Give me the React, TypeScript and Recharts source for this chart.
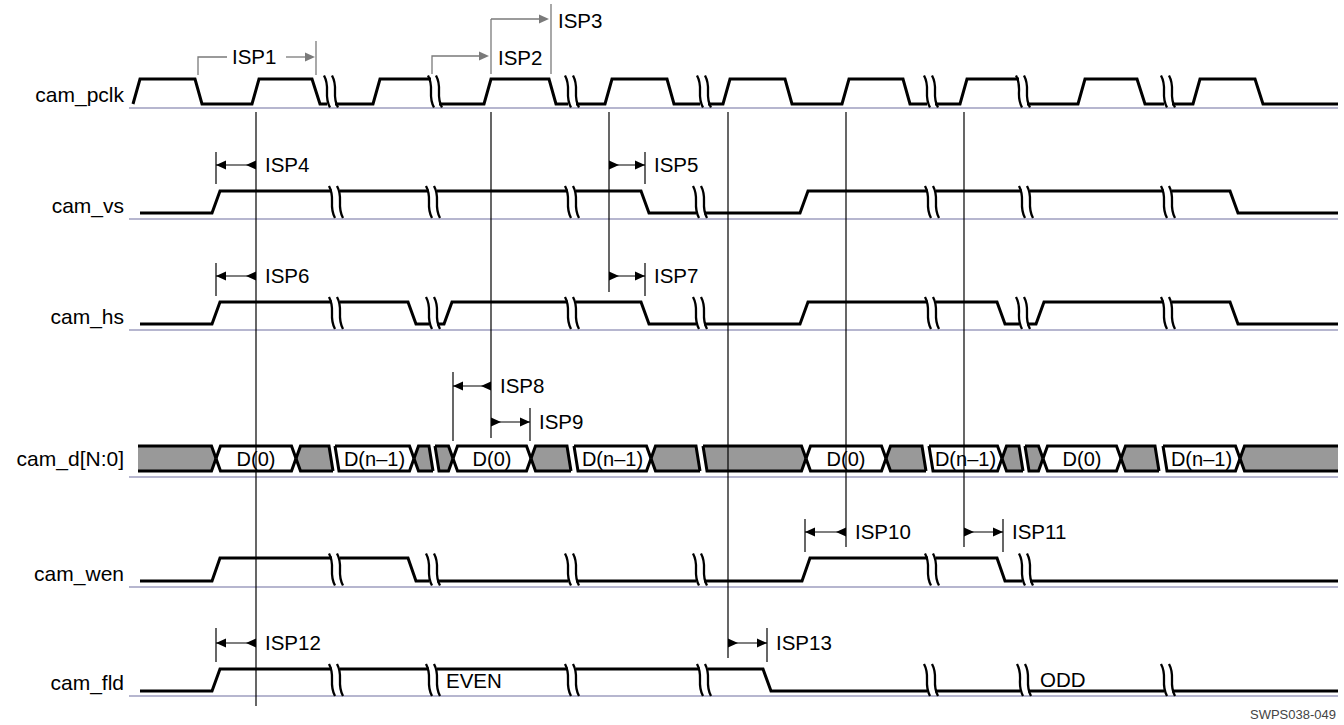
import React from 'react';
import { ComposedChart, Line, Area, Scatter, XAxis, YAxis } from 'recharts';

const CHART_W = 1344;
const CHART_H = 725;
const FONT = "'Liberation Sans', Arial, Helvetica, sans-serif";

// ---------- rows (values on the vertical scale) ----------
const rowNames = ['cam_pclk', 'cam_vs', 'cam_hs', 'cam_d[N:0]', 'cam_wen', 'cam_fld'];
const rowBase = [108, 219, 330, 477, 587, 696];
const rowHigh = [79, 191, 302, 446, 558, 669];
const rowLow = [104, 213, 324, 471, 581, 691];
const rowLabelY = [95, 206, 317, 459, 574, 683];
const baselineFrom = 129;
const baselineTo = 1338;

// ---------- waveforms: [time, level] (1 = high, 0 = low, null = break) ----------
type Pt = [number, number | null];
const pclkWave: Pt[] = [
  [133, 0], [140, 1], [195, 1], [202, 0], [252, 0], [259, 1], [312, 1], [320, 0], [327, 0], [331, null],
  [335, 0], [373, 0], [380, 1], [431, 1], [435, null],
  [439, 0], [484, 0], [491, 1], [549, 1], [556, 0], [568, 0], [572, null],
  [576, 0], [605, 0], [612, 1], [667, 1], [674, 0], [700, 0], [704, null],
  [708, 0], [723, 0], [730, 1], [785, 1], [792, 0], [842, 0], [849, 1], [903, 1], [910, 0], [927, 0], [931, null],
  [935, 0], [960, 0], [967, 1], [1019, 1], [1023, null],
  [1027, 0], [1078, 0], [1085, 1], [1137, 1], [1145, 0], [1164, 0], [1168, null],
  [1172, 0], [1193, 0], [1200, 1], [1255, 1], [1263, 0], [1338, 0],
];
const vsWave: Pt[] = [
  [140, 0], [212, 0], [220, 1], [332, 1], [336, null], [340, 1], [429, 1], [433, null], [437, 1], [568, 1], [572, null],
  [576, 1], [641, 1], [649, 0], [696, 0], [700, null], [704, 0], [800, 0], [808, 1], [928, 1], [932, null],
  [936, 1], [1022, 1], [1026, null], [1030, 1], [1164, 1], [1168, null], [1172, 1], [1230, 1], [1238, 0], [1338, 0],
];
const hsWave: Pt[] = [
  [140, 0], [212, 0], [220, 1], [332, 1], [336, null], [340, 1], [408, 1], [416, 0], [429, 0], [433, null],
  [437, 0], [444, 0], [452, 1], [568, 1], [572, null], [576, 1], [641, 1], [649, 0], [696, 0], [700, null],
  [704, 0], [800, 0], [808, 1], [928, 1], [932, null], [936, 1], [997, 1], [1005, 0], [1019, 0], [1023, null],
  [1027, 0], [1036, 0], [1044, 1], [1164, 1], [1168, null], [1172, 1], [1230, 1], [1238, 0], [1338, 0],
];
const wenWave: Pt[] = [
  [140, 0], [212, 0], [220, 1], [332, 1], [336, null], [340, 1], [408, 1], [416, 0], [429, 0], [433, null],
  [437, 0], [568, 0], [572, null], [576, 0], [696, 0], [700, null], [704, 0], [802, 0], [810, 1], [928, 1], [932, null],
  [936, 1], [997, 1], [1005, 0], [1022, 0], [1026, null], [1030, 0], [1338, 0],
];
const fldWave: Pt[] = [
  [140, 0], [212, 0], [220, 1], [332, 1], [336, null], [340, 1], [429, 1], [433, null], [437, 1], [568, 1], [572, null],
  [576, 1], [700, 1], [704, null], [708, 1], [763, 1], [771, 0], [927, 0], [931, null], [935, 0], [1020, 0], [1024, null],
  [1028, 0], [1164, 0], [1168, null], [1172, 0], [1338, 0],
];
const waveList = [pclkWave, vsWave, hsWave, wenWave, fldWave];
const waveRow = [0, 1, 2, 4, 5];

// ---------- data bus segments ----------
const busKind = ['g', 'w', 'g', 'w', 'g', 'g', 'w', 'g', 'w', 'g', 'g', 'w', 'g', 'w', 'g', 'g', 'w', 'g', 'w', 'g'];
const busStart = [138, 216, 296, 335, 414, 435, 453, 531, 574, 651, 703, 806, 886, 929, 1002, 1025, 1043, 1121, 1163, 1240];
const busEnd = [216, 296, 329, 414, 429, 453, 531, 567, 651, 696, 806, 886, 922, 1002, 1019, 1043, 1121, 1155, 1240, 1338];
const busLeft = ['f', 'x', 'x', 'b', 'x', 'b', 'x', 'x', 'b', 'x', 'b', 'x', 'x', 'b', 'x', 'b', 'x', 'x', 'b', 'x'];
const busRight = ['x', 'x', 'b', 'x', 'b', 'x', 'x', 'b', 'x', 'b', 'x', 'x', 'b', 'x', 'b', 'x', 'x', 'b', 'x', 'f'];
const busText = ['', 'D(0)', '', 'D(n\u20131)', '', '', 'D(0)', '', 'D(n\u20131)', '', '', 'D(0)', '', 'D(n\u20131)', '', '', 'D(0)', '', 'D(n\u20131)', ''];

// ---------- timing reference lines ----------
const refX = [256, 491, 609, 728, 846, 964];
const refTop = [112, 112, 112, 112, 112, 112];
const refBottom = [706, 438, 292, 658, 547, 547];

// ---------- timing arrows ----------
const arrowName = ['ISP4', 'ISP5', 'ISP6', 'ISP7', 'ISP8', 'ISP9', 'ISP10', 'ISP11', 'ISP12', 'ISP13'];
const arrowRef = [256, 609, 256, 609, 491, 491, 846, 964, 256, 728];
const arrowTick = [216, 645, 216, 645, 453, 530, 805, 1003, 216, 767];
const arrowY = [165, 165, 276, 276, 386, 422, 532, 532, 643, 643];
const tickTop = [152, 152, 263, 263, 372, 408, 519, 519, 628, 628];
const tickBottom = [184, 184, 296, 296, 441, 441, 552, 552, 662, 662];

// ---------- clock period annotations (gray) ----------
const clockPaths: [number, number][][] = [
  [[198, 75], [198, 57], [227, 57]],
  [[286, 57], [312, 57]],
  [[316, 41], [316, 75]],
  [[432, 74], [432, 56], [486, 56]],
  [[491, 19], [491, 74]],
  [[491, 19], [546, 19]],
  [[551, 4], [551, 74]],
];
const clockHeadX = [315, 489, 549];
const clockHeadY = [57, 56, 19];
const clockLabel = ['ISP1', 'ISP2', 'ISP3'];
const clockLabelX = [232, 498, 558];
const clockLabelY = [57, 58, 21];

// ---------- field labels ----------
const fieldLabel = ['EVEN', 'ODD'];
const fieldLabelX = [446, 1040];
const fieldLabelY = [681, 680];

const footnote = 'SWPS038-049';
const footnoteX = 1336;
const footnoteY = 714;

// ---------- derived series ----------
const waveData = (w: Pt[], r: number) =>
  w.map(([x, lv]) => ({ x, y: lv === null ? null : lv === 1 ? rowHigh[r] : rowLow[r] }));
const glyphData = waveList.flatMap((w, i) =>
  w.filter((p) => p[1] === null).map((p) => ({ x: p[0], y: (rowHigh[waveRow[i]] + rowLow[waveRow[i]]) / 2 }))
);

const X_HALF = 4.5;
const SLANT = 4;
const busPoints = (i: number) => {
  const T = rowHigh[3];
  const B = rowLow[3];
  const C = (T + B) / 2;
  const s = busStart[i];
  const e = busEnd[i];
  const pts: { x: number; v: [number, number] }[] = [];
  if (busLeft[i] === 'x') pts.push({ x: s, v: [C, C] }, { x: s + X_HALF, v: [B, T] });
  else if (busLeft[i] === 'b') pts.push({ x: s, v: [T, T] }, { x: s + SLANT, v: [B, T] });
  else pts.push({ x: s, v: [B, T] });
  if (busRight[i] === 'x') pts.push({ x: e - X_HALF, v: [B, T] }, { x: e, v: [C, C] });
  else if (busRight[i] === 'b') pts.push({ x: e, v: [B, T] }, { x: e + SLANT, v: [B, B] });
  else pts.push({ x: e, v: [B, T] });
  return pts;
};

const rowLabelData = rowNames.map((t, i) => ({ x: 124, y: rowLabelY[i], text: t }));
const busLabelData = busText
  .map((t, i) => ({ x: (busStart[i] + busEnd[i]) / 2, y: (rowHigh[3] + rowLow[3]) / 2, text: t }))
  .filter((d) => d.text);
const arrowLabelData = arrowName.map((t, i) => ({
  x: Math.max(arrowRef[i], arrowTick[i]) + 9,
  y: arrowY[i],
  text: t,
}));
const clockLabelData = clockLabel.map((t, i) => ({ x: clockLabelX[i], y: clockLabelY[i], text: t }));
const fieldLabelData = fieldLabel.map((t, i) => ({ x: fieldLabelX[i], y: fieldLabelY[i], text: t }));
const footData = [{ x: footnoteX, y: footnoteY, text: footnote }];

const HEAD = 10;
const arrowHeads = arrowName.flatMap((_, i) => {
  const dir = arrowTick[i] < arrowRef[i] ? -1 : 1;
  if (dir < 0)
    return [
      { x: arrowTick[i], y: arrowY[i], dir },
      { x: arrowRef[i] - HEAD, y: arrowY[i], dir },
    ];
  return [
    { x: arrowRef[i] + HEAD, y: arrowY[i], dir },
    { x: arrowTick[i], y: arrowY[i], dir },
  ];
});
const clockHeads = clockHeadX.map((x, i) => ({ x, y: clockHeadY[i], dir: 1 }));

// ---------- shapes ----------
const makeText =
  (anchor: string, size: number, color: string) =>
  (props: any) => {
    const p = props.payload || props;
    return (
      <text
        x={props.cx}
        y={props.cy}
        dy="0.35em"
        textAnchor={anchor}
        fontSize={size}
        fontFamily={FONT}
        fill={color}
      >
        {p.text}
      </text>
    );
  };

const makeHead = (color: string) => (props: any) => {
  const p = props.payload || props;
  const { cx, cy } = props;
  const d = p.dir;
  return (
    <polygon
      points={`${cx},${cy} ${cx - d * HEAD},${cy - 4.5} ${cx - d * HEAD},${cy + 4.5}`}
      fill={color}
      stroke="none"
    />
  );
};

const BreakGlyph = (props: any) => {
  const { cx, cy } = props;
  const hh = 16;
  const curve = (ox: number) =>
    `M${ox - 3},${cy - hh} C${ox + 4},${cy - hh * 0.2} ${ox - 4},${cy + hh * 0.2} ${ox + 3},${cy + hh}`;
  return (
    <g>
      <path d={curve(cx - 4)} stroke="#000" strokeWidth={2.3} fill="none" />
      <path d={curve(cx + 4)} stroke="#000" strokeWidth={2.3} fill="none" />
    </g>
  );
};

const lineProps = {
  type: 'linear' as const,
  dataKey: 'y',
  dot: false,
  activeDot: false,
  isAnimationActive: false,
  connectNulls: false,
};

export default function App() {
  return (
    <div style={{ position: 'absolute', left: 0, top: 0, width: CHART_W, height: CHART_H, background: '#fff' }}>
      <ComposedChart width={CHART_W} height={CHART_H} margin={{ top: 0, right: 0, bottom: 0, left: 0 }}>
        <XAxis dataKey="x" type="number" domain={[0, CHART_W]} hide allowDataOverflow />
        <YAxis dataKey="y" type="number" domain={[0, CHART_H]} reversed hide allowDataOverflow />

        {/* baselines */}
        {rowBase.map((b, i) => (
          <Line
            key={'base' + i}
            {...lineProps}
            data={[
              { x: baselineFrom, y: b },
              { x: baselineTo, y: b },
            ]}
            stroke="#b6b6cf"
            strokeWidth={2}
          />
        ))}

        {/* data bus */}
        {busKind.map((k, i) => (
          <Area
            key={'bus' + i}
            type="linear"
            dataKey="v"
            data={busPoints(i)}
            stroke="#000"
            strokeWidth={3}
            fill={k === 'g' ? '#999999' : '#ffffff'}
            fillOpacity={1}
            dot={false}
            activeDot={false}
            isAnimationActive={false}
          />
        ))}

        {/* waveforms */}
        {waveList.map((w, i) => (
          <Line
            key={'wave' + i}
            {...lineProps}
            data={waveData(w, waveRow[i])}
            stroke="#000"
            strokeWidth={3}
            strokeLinejoin="miter"
          />
        ))}
        <Scatter data={glyphData} shape={BreakGlyph} isAnimationActive={false} />

        {/* reference lines */}
        {refX.map((x, i) => (
          <Line
            key={'ref' + i}
            {...lineProps}
            data={[
              { x, y: refTop[i] },
              { x, y: refBottom[i] },
            ]}
            stroke="#000"
            strokeWidth={1.2}
          />
        ))}

        {/* timing arrows */}
        {arrowName.map((n, i) => (
          <Line
            key={'tick' + i}
            {...lineProps}
            data={[
              { x: arrowTick[i], y: tickTop[i] },
              { x: arrowTick[i], y: tickBottom[i] },
            ]}
            stroke="#000"
            strokeWidth={1.2}
          />
        ))}
        {arrowName.map((n, i) => (
          <Line
            key={'shaft' + i}
            {...lineProps}
            data={[
              { x: arrowTick[i], y: arrowY[i] },
              { x: arrowRef[i], y: arrowY[i] },
            ]}
            stroke="#000"
            strokeWidth={1.2}
          />
        ))}
        <Scatter data={arrowHeads} shape={makeHead('#000')} isAnimationActive={false} />

        {/* clock annotations */}
        {clockPaths.map((p, i) => (
          <Line
            key={'clk' + i}
            {...lineProps}
            data={p.map(([x, y]) => ({ x, y }))}
            stroke="#7a7a7a"
            strokeWidth={1.3}
          />
        ))}
        <Scatter data={clockHeads} shape={makeHead('#7a7a7a')} isAnimationActive={false} />

        {/* text */}
        <Scatter data={rowLabelData} shape={makeText('end', 21, '#000')} isAnimationActive={false} />
        <Scatter data={busLabelData} shape={makeText('middle', 20, '#000')} isAnimationActive={false} />
        <Scatter data={arrowLabelData} shape={makeText('start', 20.5, '#000')} isAnimationActive={false} />
        <Scatter data={clockLabelData} shape={makeText('start', 20.5, '#000')} isAnimationActive={false} />
        <Scatter data={fieldLabelData} shape={makeText('start', 20.5, '#000')} isAnimationActive={false} />
        <Scatter data={footData} shape={makeText('end', 13, '#444')} isAnimationActive={false} />
      </ComposedChart>
    </div>
  );
}
